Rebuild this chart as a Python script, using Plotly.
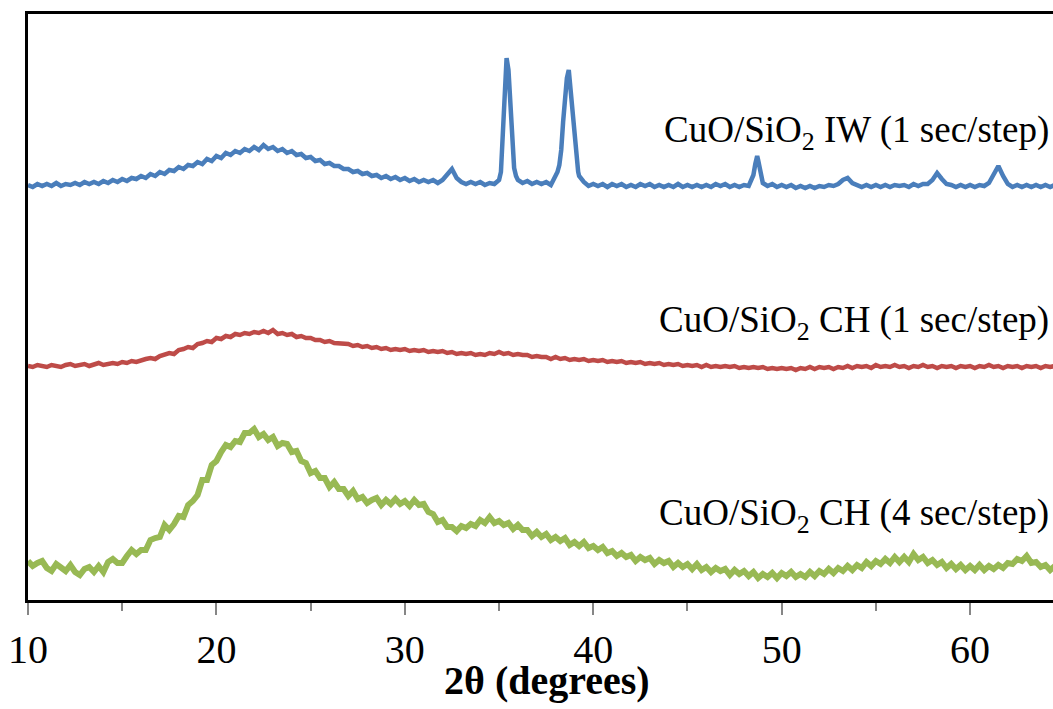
import plotly.graph_objects as go

# 2-theta grid start/step for the sampled patterns (degrees)
theta_start = 10.0
theta_step = 0.25

# Intensities (arbitrary units), one value per 0.25 deg from 10.0 to 64.5
iw_1s = [415,413,416,414,416,414,417,414,416,415,417,415,418,416,418,416,419,417,420,418,
         421,419,422,421,424,422,426,424,428,426,430,429,433,431,435,434,438,436,441,439,
         444,442,447,445,449,447,451,449,453,450,455,451,453,449,451,447,449,445,446,442,
         443,439,440,436,437,434,434,431,431,428,429,426,427,424,425,422,424,421,423,420,
         422,419,421,418,420,418,420,417,420,426,431,422,418,416,418,416,418,415,417,416,
         420,495,530,443,420,417,419,416,418,416,418,415,424,442,500,520,460,424,418,414,
         416,414,416,413,416,414,416,413,415,413,416,414,416,413,415,413,415,413,416,413,
         415,413,415,413,415,413,416,414,416,413,415,413,415,414,425,440,417,414,416,413,
         415,413,415,412,414,412,414,412,414,413,415,414,416,420,422,417,415,413,415,413,
         415,413,415,413,415,414,415,413,416,414,416,416,420,427,421,416,415,413,415,413,
         415,413,415,414,417,425,434,424,416,413,415,413,415,413,415,413,415,413,415]

# Extra finely read points across the sharp CuO reflections of the IW pattern
iw_peak_theta = [35.1, 35.2, 35.3, 35.4, 35.6, 35.7, 35.8, 35.9,
                 38.1, 38.2, 38.3, 38.4, 38.6, 38.7, 38.8, 38.9, 39.1, 39.2,
                 48.6, 48.7, 48.9]
iw_peak_int = [428, 470, 520, 542, 495, 455, 432, 424,
               428, 435, 450, 478, 522, 530, 510, 485, 440, 428,
               436, 444, 425]

ch_1s = [234,233,235,234,233,235,234,233,235,236,234,235,236,234,235,237,235,236,237,236,
         238,237,239,238,240,241,242,241,244,245,247,246,250,251,253,252,256,257,259,258,
         262,261,264,263,266,265,267,266,268,267,269,267,270,266,267,265,266,263,264,262,
         262,260,260,258,259,257,257,256,256,254,255,253,254,252,253,251,252,250,251,250,
         251,249,250,249,250,248,249,248,249,247,248,246,247,246,247,245,246,245,247,246,
         248,246,247,245,246,245,245,243,244,243,243,241,243,241,242,240,241,240,241,239,
         240,239,240,238,239,238,239,237,238,237,238,236,237,236,237,235,236,235,236,234,
         235,234,235,233,235,233,234,233,234,233,234,232,233,232,233,232,233,231,232,231,
         232,231,232,230,232,231,233,231,233,232,233,231,233,232,234,232,234,233,234,232,
         235,233,234,233,235,233,234,232,234,233,235,233,234,232,234,233,234,232,234,233,
         234,232,234,233,235,233,234,232,234,233,234,232,234,233,234,232,234,233,234]

ch_4s = [39,34,37,39,32,29,36,32,29,35,28,25,31,33,28,34,28,38,41,37,
         37,44,50,46,50,50,60,62,63,75,70,76,84,83,95,99,105,120,120,135,
         139,148,155,153,159,158,167,167,171,163,166,160,163,154,157,156,148,149,139,137,
         127,129,122,122,113,118,111,111,104,109,101,103,97,100,102,95,100,96,101,96,
         99,94,100,95,96,88,86,78,80,73,73,69,74,72,76,74,80,77,83,77,
         79,75,77,71,75,70,70,64,68,63,66,60,63,59,62,55,58,54,58,52,
         54,50,53,47,49,44,47,43,45,39,43,40,42,36,40,37,39,33,37,33,
         36,31,36,30,33,28,32,29,31,25,30,26,29,24,28,22,26,23,27,22,
         27,24,28,23,26,23,28,24,29,26,31,27,32,29,34,30,35,32,38,34,
         39,36,41,37,43,38,43,38,46,40,43,37,40,35,38,32,36,31,35,30,
         34,30,35,30,34,31,35,32,37,36,41,39,44,37,38,33,35,30,34]

series_names = ["CuO/SiO<sub>2</sub> IW (1 sec/step)",
                "CuO/SiO<sub>2</sub> CH (1 sec/step)",
                "CuO/SiO<sub>2</sub> CH (4 sec/step)"]
label_levels = [468, 278, 85]
colors = ["#4A7EBB", "#BE4B48", "#98B954"]
widths = [4.5, 4.5, 6]

x_ticks = [10, 20, 30, 40, 50, 60]


def grid(vals):
    return [round(theta_start + theta_step * i, 2) for i in range(len(vals))]


# merge IW grid with its fine peak points
iw_pairs = sorted(list(zip(grid(iw_1s), iw_1s)) + list(zip(iw_peak_theta, iw_peak_int)))
iw_x = [p[0] for p in iw_pairs]
iw_y = [p[1] for p in iw_pairs]

xs = [iw_x, grid(ch_1s), grid(ch_4s)]
ys = [iw_y, ch_1s, ch_4s]

fig = go.Figure()
for x, y, c, w, n in zip(xs, ys, colors, widths, series_names):
    fig.add_trace(go.Scatter(x=x, y=y, mode="lines", name=n,
                             line=dict(color=c, width=w), showlegend=False,
                             hoverinfo="skip"))

font_family = "Liberation Serif, Times New Roman, serif"

for n, lv in zip(series_names, label_levels):
    fig.add_annotation(x=64.3, y=lv, xref="x", yref="y", text=n, showarrow=False,
                       xanchor="right", yanchor="middle",
                       font=dict(family=font_family, size=37, color="black"))

fig.add_annotation(x=0.506, y=-0.138, xref="paper", yref="paper",
                   text="<b>2θ (degrees)</b>", showarrow=False,
                   xanchor="center", yanchor="middle",
                   font=dict(family=font_family, size=40, color="black"))

fig.update_layout(
    width=1053, height=709,
    margin=dict(l=28, r=0, t=14, b=109),
    paper_bgcolor="white", plot_bgcolor="white",
    font=dict(family=font_family, color="black"),
)
fig.update_xaxes(range=[10, 64.4], tickvals=x_ticks, ticktext=[str(v) for v in x_ticks],
                 showgrid=False, zeroline=False,
                 showline=True, linecolor="black", linewidth=3, mirror=True,
                 ticks="outside", ticklen=12, tickwidth=2, tickcolor="#868686",
                 minor=dict(dtick=5, tick0=10, ticks="outside", ticklen=8,
                            tickwidth=2, tickcolor="#868686", showgrid=False),
                 tickfont=dict(family=font_family, size=40, color="black"),
                 ticklabelstandoff=0)
fig.update_yaxes(range=[0, 586], showticklabels=False, showgrid=False, zeroline=False,
                 showline=True, linecolor="black", linewidth=3, mirror=False,
                 ticks="")

fig.write_html("out.html")
